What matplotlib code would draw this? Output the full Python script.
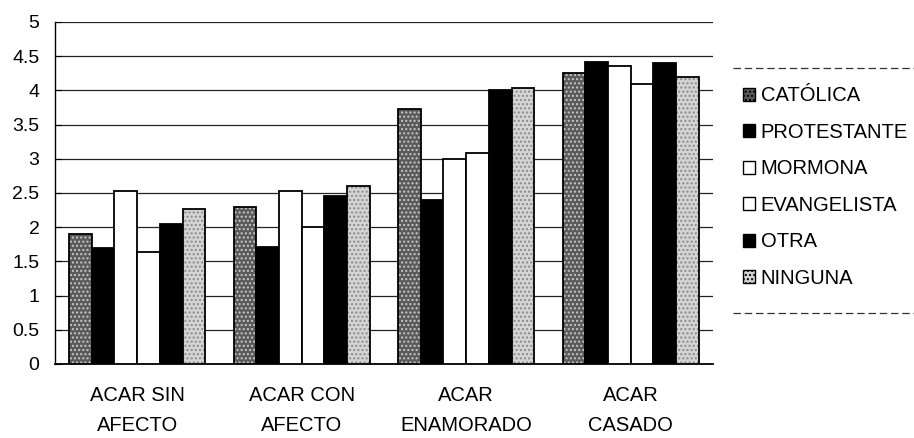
import matplotlib.pyplot as plt
import numpy as np
from matplotlib.patches import Patch
from matplotlib.lines import Line2D

plt.rcParams['font.family'] = ['Liberation Sans', 'DejaVu Sans']
plt.rcParams['hatch.linewidth'] = 1.0

### data ###
categories = ['ACAR SIN\nAFECTO', 'ACAR CON\nAFECTO', 'ACAR\nENAMORADO', 'ACAR\nCASADO']
series = ['CATÓLICA', 'PROTESTANTE', 'MORMONA', 'EVANGELISTA', 'OTRA', 'NINGUNA']
catolica = [1.90, 2.29, 3.72, 4.26]
protestante = [1.70, 1.71, 2.40, 4.42]
mormona = [2.53, 2.53, 3.00, 4.35]
evangelista = [1.64, 2.00, 3.08, 4.09]
otra = [2.05, 2.46, 4.00, 4.40]
ninguna = [2.26, 2.60, 4.03, 4.20]
yticks = [0, 0.5, 1, 1.5, 2, 2.5, 3, 3.5, 4, 4.5, 5]

values = [catolica, protestante, mormona, evangelista, otra, ninguna]
# face colour, speckle colour (None = plain)
styles = [('#5a5a5a', '#c8c8c8'), ('black', None), ('white', None),
          ('white', None), ('black', None), ('#d4d4d4', '#8a8a8a')]

fig = plt.figure(figsize=(9.14, 4.38), dpi=100)
ax = fig.add_axes([0.060, 0.169, 0.720, 0.781])

x = np.arange(len(categories))
w = 0.138
for i, vals in enumerate(values):
  pos = x + (i - 2.5) * w
  face, speck = styles[i]
  if speck is not None:
    ax.bar(pos, vals, w, color=face, edgecolor=speck, hatch='....', linewidth=0, zorder=3)
    ax.bar(pos, vals, w, fill=False, edgecolor='black', linewidth=1.3, zorder=4)
  else:
    ax.bar(pos, vals, w, color=face, edgecolor='black', linewidth=1.3, zorder=3)

ax.set_xlim(-0.5, 3.5)
ax.set_ylim(0, 5)
ax.set_yticks(yticks)
ax.set_yticklabels([('%g' % t) for t in yticks], fontsize=14)
ax.set_xticks(x)
ax.set_xticklabels(categories, fontsize=14.5, linespacing=1.75)
ax.tick_params(axis='x', length=0, pad=16)
ax.tick_params(axis='y', length=4, direction='in', pad=11)
ax.yaxis.grid(True, color='#222222', linewidth=0.9, zorder=0)
for s in ['top', 'right']:
  ax.spines[s].set_visible(False)
ax.spines['left'].set_linewidth(1.0)
ax.spines['bottom'].set_linewidth(1.3)

handles = []
for face, speck in styles:
  if speck is not None:
    handles.append(Patch(facecolor=face, edgecolor='black', hatch='....', linewidth=1.0))
  else:
    handles.append(Patch(facecolor=face, edgecolor='black', linewidth=1.0))
leg = fig.legend(handles, series, loc='upper left', bbox_to_anchor=(0.797, 0.835),
                 frameon=False, fontsize=14.5, handlelength=0.6, handleheight=0.6,
                 handletextpad=0.3, labelspacing=0.87, borderpad=0.2)

# dashed border lines of the legend box
fig.add_artist(Line2D([0.802, 1.0], [0.845, 0.845], color='#333333', linewidth=0.9, linestyle=(0, (6, 3))))
fig.add_artist(Line2D([0.802, 1.0], [0.285, 0.285], color='#333333', linewidth=0.9, linestyle=(0, (6, 3))))

plt.savefig('out.png')
